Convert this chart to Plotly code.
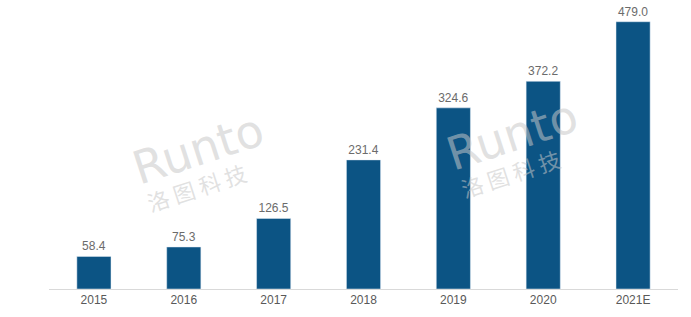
import plotly.graph_objects as go

categories = ["2015", "2016", "2017", "2018", "2019", "2020", "2021E"]
values = [58.4, 75.3, 126.5, 231.4, 324.6, 372.2, 479.0]
labels = ["58.4", "75.3", "126.5", "231.4", "324.6", "372.2", "479.0"]

W, H = 691, 317
L, R, T, B = 49, 13, 10, 26
pw, ph = W - L - R, H - T - B
YMAX = 500
step = pw / len(categories)

def xi(x):
    return (x - L - step / 2) / step

def yv(y):
    return (H - B - y) / ph * YMAX

fig = go.Figure(go.Bar(
    x=list(range(len(categories))), y=values, text=labels, textposition="outside",
    textfont=dict(size=12, color="#6b6b6b", family="Liberation Sans Narrow, Arial Narrow, sans-serif"),
    marker=dict(color="#0c5484"), cliponaxis=False,
))

wm_color = "rgba(200,200,200,0.55)"
for cx, cy, cx2, cy2 in [(198, 150, 196, 188), (512, 136, 510, 174)]:
    fig.add_annotation(x=xi(cx), y=yv(cy), xref="x", yref="y", text="Runto",
                       showarrow=False, textangle=-18, xanchor="center", yanchor="middle",
                       font=dict(size=46, color=wm_color, family="DejaVu Sans, sans-serif"))
    fig.add_annotation(x=xi(cx2), y=yv(cy2), xref="x", yref="y", text="洛 图 科 技",
                       showarrow=False, textangle=-18, xanchor="center", yanchor="middle",
                       font=dict(size=22, color=wm_color, family="Noto Sans CJK SC"))

fig.update_layout(
    width=W, height=H, margin=dict(l=L, r=R, t=T, b=B),
    plot_bgcolor="white", paper_bgcolor="white", bargap=0.62,
    showlegend=False,
    xaxis=dict(showline=True, linecolor="#d9d9d9", linewidth=1, ticks="",
               range=[-0.5, len(categories) - 0.5],
               tickmode="array", tickvals=list(range(len(categories))), ticktext=categories,
               tickfont=dict(size=12, color="#595959", family="Liberation Sans Narrow, Arial Narrow, sans-serif")),
    yaxis=dict(range=[0, YMAX], visible=False, showgrid=False, zeroline=False),
)
fig.write_html("out.html")
